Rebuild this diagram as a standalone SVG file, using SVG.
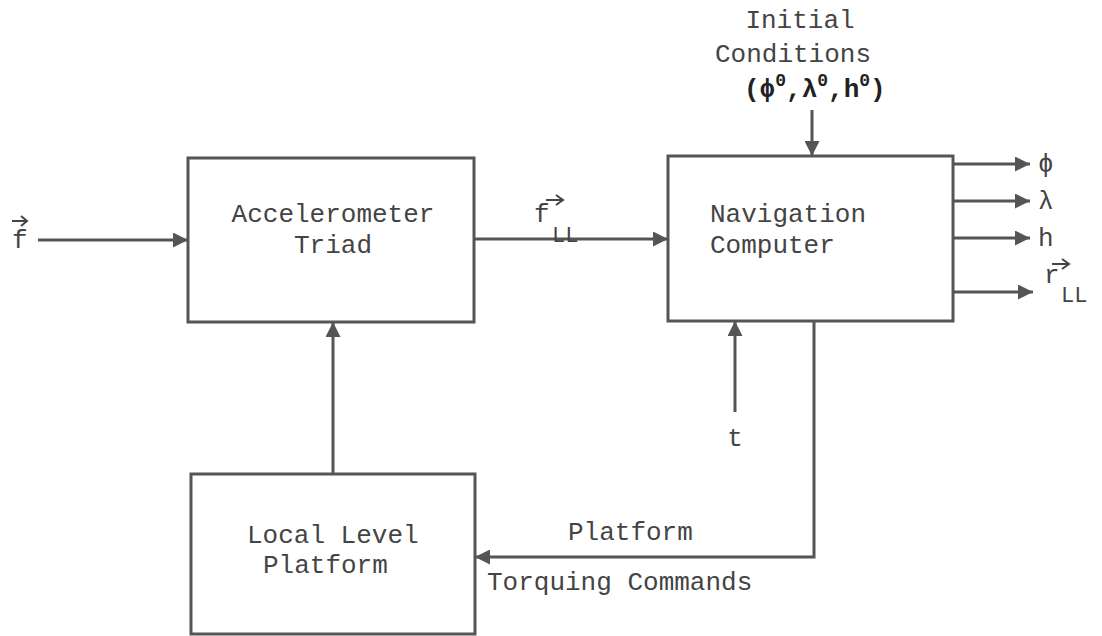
<svg xmlns="http://www.w3.org/2000/svg" width="1102" height="636" viewBox="0 0 1102 636">
<style>
.box{fill:none;stroke:#555;stroke-width:3}
.ln{fill:none;stroke:#555;stroke-width:3}
.t{font-family:"Liberation Mono","Courier New",monospace;font-size:26px;fill:#444}
.s{font-family:"Liberation Mono","Courier New",monospace;font-size:22px;fill:#444}
.b{font-family:"Liberation Mono","Courier New",monospace;font-size:26px;fill:#222;font-weight:bold}
.vec{fill:none;stroke:#444;stroke-width:2}
</style>
<defs>
<marker id="ah" viewBox="0 0 10 10" refX="10" refY="5" markerWidth="7" markerHeight="5" markerUnits="strokeWidth" orient="auto">
<path d="M0,0 L10,5 L0,10 z" fill="#555"/>
</marker>
</defs>
<rect width="1102" height="636" fill="#fff"/>
<g id="accelerometer">
<rect class="box" x="188" y="158" width="286" height="164"/>
<text class="t" x="333" y="222" text-anchor="middle">Accelerometer</text>
<text class="t" x="333" y="253" text-anchor="middle">Triad</text>
</g>
<g id="navigation">
<rect class="box" x="668" y="156" width="285" height="165"/>
<text class="t" x="710" y="222">Navigation</text>
<text class="t" x="710" y="253">Computer</text>
</g>
<g id="platform">
<rect class="box" x="191" y="474" width="284" height="160"/>
<text class="t" x="247" y="543">Local Level</text>
<text class="t" x="263" y="573">Platform</text>
</g>
<g id="connectors">
<line class="ln" x1="38" y1="240" x2="188" y2="240" marker-end="url(#ah)"/>
<line class="ln" x1="474" y1="239" x2="668" y2="239" marker-end="url(#ah)"/>
<line class="ln" x1="333" y1="474" x2="333" y2="322" marker-end="url(#ah)"/>
<line class="ln" x1="812" y1="110" x2="812" y2="156" stroke-width="2" marker-end="url(#ah)"/>
<line class="ln" x1="953" y1="164" x2="1030" y2="164" marker-end="url(#ah)"/>
<line class="ln" x1="953" y1="201" x2="1030" y2="201" marker-end="url(#ah)"/>
<line class="ln" x1="953" y1="238" x2="1030" y2="238" marker-end="url(#ah)"/>
<line class="ln" x1="953" y1="292" x2="1033" y2="292" marker-end="url(#ah)"/>
<line class="ln" x1="735" y1="412" x2="735" y2="321" marker-end="url(#ah)"/>
<polyline class="ln" points="814,321 814,557 475,557" marker-end="url(#ah)"/>
</g>
<g id="labels">
<text class="t" x="12" y="248">f</text>
<path class="vec" d="M12,221 H26 M21,216 L27,221 L21,226"/>
<text class="t" x="534" y="222">f</text>
<path class="vec" d="M546,200 H562 M556,195 L563,200 L556,205"/>
<text class="s" x="552" y="242">LL</text>
<text class="t" x="800" y="28" text-anchor="middle">Initial</text>
<text class="t" x="793" y="62" text-anchor="middle">Conditions</text>
<text class="b" x="744" y="97">(ϕ<tspan dy="-11" font-size="18">0</tspan><tspan dy="11">,λ</tspan><tspan dy="-11" font-size="18">0</tspan><tspan dy="11">,h</tspan><tspan dy="-11" font-size="18">0</tspan><tspan dy="11">)</tspan></text>
<text class="t" x="1038" y="172">ϕ</text>
<text class="t" x="1038" y="209">λ</text>
<text class="t" x="1038" y="246">h</text>
<text class="t" x="1044" y="283">r</text>
<path class="vec" d="M1052,264 H1068 M1062,259 L1069,264 L1062,269"/>
<text class="s" x="1061" y="302">LL</text>
<text class="t" x="735" y="446" text-anchor="middle">t</text>
<text class="t" x="568" y="540">Platform</text>
<text class="t" x="487" y="590">Torquing Commands</text>
</g>
</svg>
